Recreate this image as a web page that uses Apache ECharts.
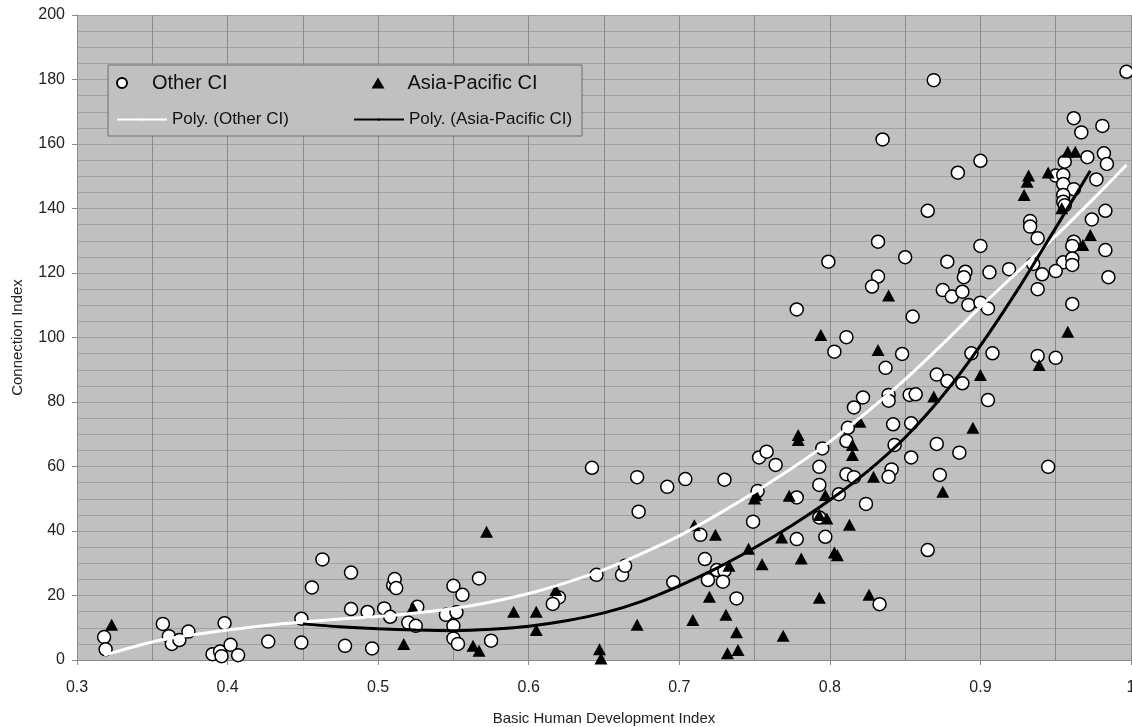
<!DOCTYPE html>
<html>
<head>
<meta charset="utf-8">
<script src="https://cdn.jsdelivr.net/npm/echarts/dist/echarts.min.js"></script>
<style>
  html, body { margin: 0; padding: 0; background: #fff; }
  #chart { width: 1132px; height: 727px; }
</style>
</head>
<body>
<div id="chart"></div>
<script>
// scatter points: [HDI, connection index]
var otherCI = [
  [0.318, 7.1], [0.319, 3.3], [0.357, 11.2], [0.361, 7.4], [0.363, 5.0], [0.368, 6.2], [0.374, 8.8],
  [0.390, 1.8], [0.395, 2.6], [0.396, 1.2], [0.398, 11.4], [0.402, 4.7], [0.407, 1.5], [0.427, 5.7],
  [0.449, 5.4], [0.449, 12.8], [0.456, 22.5], [0.463, 31.2], [0.482, 27.1], [0.482, 15.8], [0.478, 4.4],
  [0.493, 14.9], [0.496, 3.6], [0.504, 16.0], [0.508, 13.4], [0.510, 23.2], [0.511, 25.1], [0.512, 22.3],
  [0.526, 16.5], [0.520, 11.6], [0.525, 10.6], [0.550, 23.0], [0.556, 20.2], [0.545, 14.0], [0.552, 14.8],
  [0.550, 10.6], [0.550, 6.7], [0.553, 5.0], [0.567, 25.3], [0.575, 6.0], [0.620, 19.4], [0.616, 17.4],
  [0.645, 26.4], [0.662, 26.4], [0.664, 29.2], [0.673, 46.0], [0.642, 59.6], [0.672, 56.7], [0.692, 53.7],
  [0.704, 56.1], [0.730, 55.9], [0.753, 62.8], [0.749, 42.9], [0.714, 38.8], [0.717, 31.3], [0.725, 27.9],
  [0.730, 27.7], [0.719, 24.8], [0.729, 24.3], [0.696, 24.1], [0.738, 19.1], [0.865, 34.1], [0.833, 17.3],
  [0.822, 81.4], [0.816, 78.3], [0.839, 82.2], [0.839, 80.4], [0.853, 82.2], [0.857, 82.4], [0.871, 88.5],
  [0.878, 86.5], [0.842, 73.1], [0.854, 73.4], [0.812, 72.0], [0.811, 67.9], [0.795, 65.6], [0.758, 64.6],
  [0.764, 60.5], [0.793, 59.9], [0.843, 66.7], [0.871, 67.0], [0.854, 62.8], [0.841, 59.1], [0.839, 56.8],
  [0.811, 57.6], [0.816, 56.7], [0.873, 57.4], [0.793, 54.3], [0.806, 51.4], [0.778, 50.4], [0.752, 52.4],
  [0.824, 48.4], [0.793, 44.2], [0.778, 37.5], [0.797, 38.2],
  [0.835, 161.4], [0.865, 139.3], [0.832, 129.7], [0.850, 124.9], [0.799, 123.5], [0.832, 118.9],
  [0.828, 115.8], [0.778, 108.7], [0.855, 106.5], [0.811, 100.1], [0.803, 95.6], [0.848, 94.9], [0.837, 90.6],
  [0.869, 179.8], [0.997, 182.4], [0.962, 168.0], [0.981, 165.6], [0.967, 163.6], [0.900, 154.8],
  [0.885, 151.1], [0.971, 155.9], [0.982, 157.1], [0.984, 153.8], [0.956, 154.5], [0.950, 150.2],
  [0.955, 150.4], [0.955, 147.6], [0.977, 149.0], [0.962, 146.0], [0.955, 144.2], [0.955, 142.1],
  [0.956, 141.0], [0.983, 139.3], [0.974, 136.6], [0.933, 136.1], [0.933, 134.4], [0.938, 130.8],
  [0.962, 129.7], [0.961, 128.4], [0.983, 127.1], [0.900, 128.4], [0.878, 123.5], [0.890, 120.4],
  [0.889, 118.7], [0.906, 120.2], [0.919, 121.2], [0.935, 122.8], [0.955, 123.3], [0.961, 124.5],
  [0.961, 122.5], [0.950, 120.6], [0.941, 119.6], [0.985, 118.7], [0.875, 114.7], [0.881, 112.7],
  [0.888, 114.2], [0.938, 115.0], [0.892, 110.1], [0.900, 110.8], [0.905, 109.0], [0.961, 110.4],
  [0.894, 95.1], [0.908, 95.1], [0.938, 94.3], [0.950, 93.7], [0.888, 85.8], [0.905, 80.6], [0.886, 64.3],
  [0.945, 59.9]
]
var asiaPacificCI = [
  [0.323, 10.9], [0.517, 5.0], [0.523, 16.3], [0.563, 4.4], [0.567, 2.9], [0.572, 39.8], [0.590, 15.0],
  [0.605, 15.0], [0.605, 9.3], [0.618, 21.7], [0.647, 3.3], [0.648, 0.5], [0.672, 10.9], [0.710, 41.8],
  [0.724, 38.8], [0.750, 50.1], [0.751, 51.2], [0.746, 34.5], [0.779, 69.8], [0.779, 68.2], [0.820, 73.9],
  [0.815, 66.7], [0.815, 63.6], [0.829, 56.8], [0.875, 52.2], [0.797, 51.2], [0.773, 50.9], [0.793, 45.0],
  [0.798, 43.9], [0.813, 41.9], [0.768, 38.0], [0.733, 29.2], [0.755, 29.7], [0.781, 31.5], [0.803, 33.3],
  [0.805, 32.5], [0.720, 19.6], [0.793, 19.3], [0.826, 20.2], [0.709, 12.4], [0.731, 14.0], [0.738, 8.6],
  [0.769, 7.5], [0.732, 2.1], [0.739, 3.1],
  [0.839, 113.0], [0.794, 100.8], [0.832, 96.1], [0.958, 157.6], [0.963, 157.6], [0.932, 150.2],
  [0.931, 148.3], [0.945, 151.2], [0.929, 144.2], [0.954, 140.1], [0.973, 131.8], [0.968, 128.7],
  [0.958, 101.8], [0.939, 91.5], [0.900, 88.4], [0.869, 81.7], [0.895, 72.0]
]
// trend lines, points
var otherFit = [
  [0.318, 1.5], [0.35, 5.6], [0.375, 7.7], [0.40, 9.3], [0.425, 10.7], [0.45, 11.8], [0.475, 12.7],
  [0.50, 13.5], [0.525, 14.6], [0.55, 16.0], [0.575, 18.0], [0.60, 20.6], [0.625, 24.0], [0.65, 28.0],
  [0.675, 33.0], [0.70, 38.5], [0.725, 45.0], [0.75, 52.0], [0.775, 59.5], [0.80, 67.7], [0.825, 77.0],
  [0.85, 87.0], [0.875, 98.0], [0.90, 109.5], [0.925, 120.5], [0.95, 131.5], [0.975, 143.0], [0.997, 153.5]
]
var asiaFit = [
  [0.45, 11.2], [0.475, 10.3], [0.50, 9.7], [0.525, 9.3], [0.55, 9.1], [0.575, 9.5], [0.60, 10.5],
  [0.625, 12.2], [0.65, 14.6], [0.675, 18.2], [0.70, 23.0], [0.725, 28.5], [0.75, 34.8], [0.775, 41.8],
  [0.80, 49.6], [0.825, 58.5], [0.85, 69.0], [0.875, 82.0], [0.90, 97.5], [0.925, 115.0], [0.95, 134.0],
  [0.973, 151.7]
]
var xTicks = [0.3, 0.4, 0.5, 0.6, 0.7, 0.8, 0.9, 1]

var FONT = 'Liberation Sans, Arial, sans-serif'

var myChart = echarts.init(document.getElementById('chart'), null, { renderer: 'canvas' })

function legendItem(name, left, top, size, iconW, iconH, textPad) {
  return {
    data: [name],
    left: left,
    top: top,
    padding: 0,
    itemWidth: iconW,
    itemHeight: iconH,
    selectedMode: false,
    z: 5,
    textStyle: { fontFamily: FONT, fontSize: size, color: '#111', padding: [0, 0, 0, textPad] }
  }
}

var option = {
  animation: false,
  backgroundColor: '#fff',
  grid: {
    left: 77,
    top: 15,
    width: 1054,
    height: 645,
    containLabel: false,
    outerBoundsMode: 'none',
    show: true,
    backgroundColor: '#c0c0c0',
    borderWidth: 0
  },
  legend: [
    legendItem('Other CI', 116, 73, 20, 50, 10, 0),
    legendItem('Asia-Pacific CI', 371.5, 73, 20, 13, 11, 18),
    legendItem('Poly. (Other CI)', 116, 111, 17, 50, 3, 0),
    legendItem('Poly. (Asia-Pacific CI)', 353, 111, 17, 50, 3, 0)
  ],
  graphic: [
    {
      type: 'rect',
      z: 3,
      shape: { x: 108, y: 65, width: 474, height: 71 },
      style: { fill: '#c0c0c0', stroke: '#6e6e6e', lineWidth: 1 }
    }
  ],
  xAxis: {
    type: 'value',
    min: 0.3,
    max: 1,
    interval: 0.1,
    name: 'Basic Human Development Index',
    nameLocation: 'middle',
    nameGap: 51,
    nameTextStyle: { fontFamily: FONT, fontSize: 15, color: '#222' },
    axisLine: { show: true, onZero: false, lineStyle: { color: '#8a8a8a', width: 1 } },
    axisTick: { show: true, length: 5, lineStyle: { color: '#8a8a8a' } },
    axisLabel: {
      margin: 20,
      fontFamily: FONT,
      fontSize: 16,
      color: '#222',
      formatter: function(v) {
        var t = xTicks.find(function(k) { return Math.abs(k - v) < 1e-6 })
        return t === undefined ? '' : String(t)
      }
    },
    splitLine: { show: true, lineStyle: { color: '#8c8c8c', width: 1 } },
    minorTick: { show: false, splitNumber: 2 },
    minorSplitLine: { show: true, lineStyle: { color: '#8c8c8c', width: 1 } }
  },
  yAxis: {
    type: 'value',
    min: 0,
    max: 200,
    interval: 20,
    name: 'Connection Index',
    nameLocation: 'middle',
    nameGap: 52,
    nameTextStyle: { fontFamily: FONT, fontSize: 15, color: '#222' },
    axisLine: { show: true, lineStyle: { color: '#8a8a8a', width: 1 } },
    axisTick: { show: true, length: 5, lineStyle: { color: '#8a8a8a' } },
    axisLabel: { margin: 12, fontFamily: FONT, fontSize: 16, color: '#222' },
    splitLine: { show: true, lineStyle: { color: '#a2a2a2', width: 1 } },
    minorTick: { show: false, splitNumber: 4 },
    minorSplitLine: { show: true, lineStyle: { color: '#a2a2a2', width: 1 } }
  },
  series: [
    {
      name: 'Other CI',
      type: 'scatter',
      data: otherCI,
      symbol: 'circle',
      symbolSize: 13,
      itemStyle: { color: '#fff', borderColor: '#000', borderWidth: 1.5, opacity: 1 },
      z: 2
    },
    {
      name: 'Asia-Pacific CI',
      type: 'scatter',
      data: asiaPacificCI,
      symbol: 'triangle',
      symbolSize: [13, 12],
      legendIcon: 'triangle',
      itemStyle: { color: '#000', opacity: 1 },
      z: 2
    },
    {
      name: 'Poly. (Other CI)',
      type: 'line',
      data: otherFit,
      smooth: 0.3,
      symbol: 'none',
      legendIcon: 'rect',
      lineStyle: { color: '#fff', width: 3 },
      itemStyle: { color: '#fff' },
      z: 3
    },
    {
      name: 'Poly. (Asia-Pacific CI)',
      type: 'line',
      data: asiaFit,
      smooth: 0.3,
      symbol: 'none',
      legendIcon: 'rect',
      lineStyle: { color: '#000', width: 3 },
      itemStyle: { color: '#000' },
      z: 3
    }
  ]
}

myChart.setOption(option)
window.addEventListener('resize', function() {
  myChart.resize()
})
</script>
</body>
</html>
